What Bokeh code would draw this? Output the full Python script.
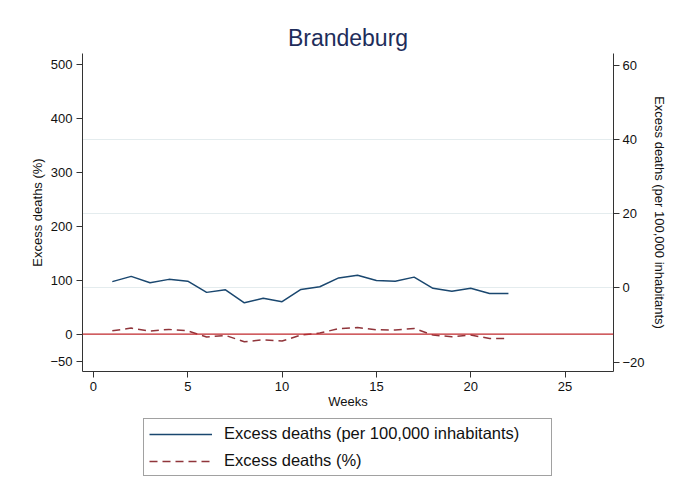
from bokeh.plotting import figure
from bokeh.layouts import column
from bokeh.models import Range1d, LinearAxis, FixedTicker, Span, Legend, LegendItem, Grid
from bokeh.embed import file_html
from bokeh.resources import INLINE

# ---- data ----
weeks = [1, 2, 3, 4, 5, 6, 7, 8, 9, 10, 11, 12, 13, 14, 15, 16, 17, 18, 19, 20, 21, 22]
excess_per_100k = [1.7, 3.1, 1.4, 2.3, 1.8, -1.2, -0.5, -4.0, -2.8, -3.7, -0.4, 0.3,
                   2.7, 3.4, 2.0, 1.8, 2.9, -0.1, -0.9, -0.1, -1.5, -1.5]
excess_pct = [6, 11, 5.5, 8.6, 6, -5.6, -2.5, -14.3, -10.6, -13, -1.9, 1.9,
              9.9, 12, 8, 7.4, 10.4, -1.9, -5, -1.9, -8.1, -8.1]

x_ticks = [0, 5, 10, 15, 20, 25]
left_ticks = [-50, 0, 100, 200, 300, 400, 500]
right_ticks = [-20, 0, 20, 40, 60]
grid_ticks = [0, 20, 40]
ref_line_value = 0

title_text = "Brandeburg"
x_label = "Weeks"
left_label = "Excess deaths (%)"
right_label = "Excess deaths (per 100,000 inhabitants)"
legend_labels = ["Excess deaths (per 100,000 inhabitants)", "Excess deaths (%)"]

FONT = "Liberation Sans"
NAVY = "#1a476f"
MAROON = "#90353b"
RED = "#c0282d"
AXIS_COLOR = "#333333"

p = figure(width=675, height=415,
           x_range=Range1d(-0.58, 27.57), y_range=Range1d(-69.4, 519.9),
           output_backend="svg", toolbar_location=None,
           min_border_left=82, min_border_right=62, min_border_top=53, min_border_bottom=44)
p.extra_y_ranges = {"right": Range1d(-22.5, 63.1)}
p.outline_line_color = None
p.background_fill_color = "white"
p.border_fill_color = "white"
p.xgrid.visible = False
p.ygrid.visible = False

# title
p.title.text = title_text
p.title.align = "center"
p.title.text_font = FONT
p.title.text_font_size = "23px"
p.title.text_font_style = "normal"
p.title.text_color = "#1e2d5b"
p.title.standoff = 6


def style_axis(ax, ticks, label):
    ax.ticker = FixedTicker(ticks=ticks)
    ax.axis_label = label
    ax.axis_label_text_font = FONT
    ax.axis_label_text_font_size = "13px"
    ax.axis_label_text_font_style = "normal"
    ax.axis_label_text_color = "#111111"
    ax.major_label_text_font = FONT
    ax.major_label_text_font_size = "13px"
    ax.major_label_text_color = "#111111"
    ax.axis_line_color = AXIS_COLOR
    ax.major_tick_line_color = AXIS_COLOR
    ax.major_tick_out = 6
    ax.major_tick_in = 0
    ax.minor_tick_line_color = None
    ax.major_label_standoff = 4


style_axis(p.xaxis[0], x_ticks, x_label)
p.xaxis[0].axis_label_standoff = 0
style_axis(p.yaxis[0], left_ticks, left_label)
p.yaxis[0].axis_label_standoff = 2
p.yaxis[0].major_label_orientation = "horizontal"

right_axis = LinearAxis(y_range_name="right")
style_axis(right_axis, right_ticks, right_label)
right_axis.major_label_standoff = 3
right_axis.axis_label_standoff = 4
p.add_layout(right_axis, "right")

# light grid lines at right-axis ticks
grid = Grid(dimension=1, ticker=FixedTicker(ticks=grid_ticks), y_range_name="right",
            grid_line_color="#e4ecee", grid_line_width=1)
p.add_layout(grid)

# reference line at zero (left axis)
p.add_layout(Span(location=ref_line_value, dimension="width", line_color=RED, line_width=1.2))

p.line(weeks, excess_per_100k, y_range_name="right", line_color=NAVY, line_width=1.5)
p.line(weeks, excess_pct, line_color=MAROON, line_width=1.5, line_dash="8 5")

# ---- legend strip below the chart (its ranges keep the key lines out of view) ----
lg = figure(width=675, height=79, x_axis_type=None, y_axis_type=None,
            x_range=Range1d(-30, -20), y_range=Range1d(-30, -20),
            output_backend="svg", toolbar_location=None,
            min_border_left=82, min_border_right=62, min_border_top=0, min_border_bottom=0)
lg.outline_line_color = None
lg.xgrid.visible = False
lg.ygrid.visible = False
lg.background_fill_color = "white"
lg.border_fill_color = "white"
k1 = lg.line(weeks, excess_per_100k, line_color=NAVY, line_width=1.5)
k2 = lg.line(weeks, excess_pct, line_color=MAROON, line_width=1.5, line_dash="8 5")

legend = Legend(items=[LegendItem(label=legend_labels[0], renderers=[k1]),
                       LegendItem(label=legend_labels[1], renderers=[k2])],
                location=(61, 18), orientation="vertical",
                label_text_font=FONT, label_text_font_size="16.5px", label_text_color="#111111",
                glyph_width=63, glyph_height=18, label_height=18, label_standoff=12,
                label_width=322, padding=5, spacing=8, margin=0,
                border_line_color="#444444", border_line_width=1,
                background_fill_color="white")
lg.add_layout(legend, "center")

layout = column(p, lg, spacing=0)
open("out.html", "w").write(file_html(layout, INLINE))
